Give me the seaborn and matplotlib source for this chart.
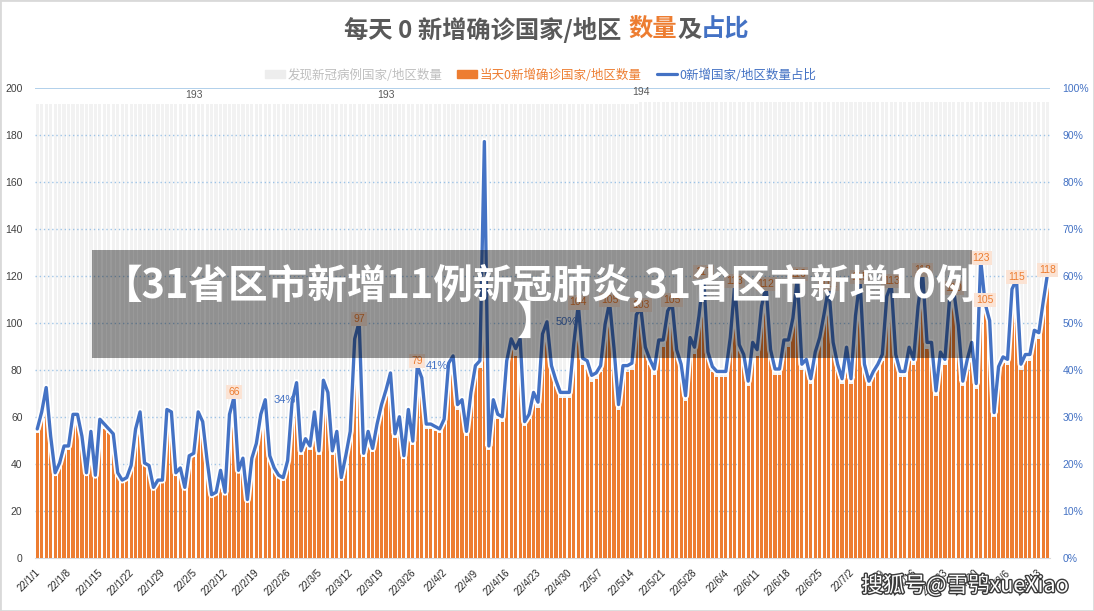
import numpy as np
import pandas as pd
import matplotlib
matplotlib.use("Agg")
import matplotlib.pyplot as plt
import matplotlib.patheffects as pe
from matplotlib.patches import Patch, Rectangle
from matplotlib.lines import Line2D
import seaborn as sns

# 数据: 每天0新增确诊国家/地区数量 (22/1/1 起, 每行一周)
zero_new = [
    53, 60, 70, 50, 35, 39, 46,
    46, 59, 59, 50, 35, 52, 34,
    57, 55, 53, 51, 35, 32, 33,
    38, 53, 60, 39, 38, 29, 32,
    32, 61, 60, 35, 37, 29, 42,
    43, 60, 56, 40, 26, 27, 36,
    27, 59, 66, 36, 41, 24, 41,
    47, 59, 65, 42, 37, 34, 33,
    40, 64, 72, 44, 49, 46, 60,
    44, 73, 68, 44, 52, 33, 42,
    52, 90, 97, 43, 52, 45, 55,
    63, 69, 76, 51, 58, 42, 61,
    48, 79, 74, 55, 55, 54, 53,
    57, 80, 83, 63, 65, 52, 68,
    79, 81, 171, 46, 65, 59, 58,
    81, 90, 86, 90, 56, 59, 68,
    64, 92, 97, 79, 73, 68, 68,
    68, 88, 104, 82, 81, 75, 76,
    79, 96, 105, 86, 63, 79, 79,
    80, 100, 103, 87, 82, 78, 90,
    90, 102, 105, 86, 80, 67, 91,
    87, 100, 117, 85, 79, 77, 77,
    77, 91, 113, 88, 84, 73, 89,
    86, 104, 112, 86, 78, 78, 90,
    90, 99, 116, 80, 82, 74, 85,
    91, 101, 112, 89, 80, 74, 87,
    74, 100, 115, 80, 73, 77, 80,
    84, 108, 113, 84, 77, 77, 87,
    82, 104, 118, 89, 89, 69, 85,
    82, 106, 110, 96, 73, 82, 89,
    72, 123, 105, 98, 60, 79, 83,
    82, 111, 115, 80, 84, 84, 94,
    93, 106, 118,
]
# 发现新冠病例国家/地区数量
totals = [193] * 135 + [194] * 92
start_date = "2022-01-01"

# 带数据标签的点 (日序号)
bar_label_days = [44, 72, 85, 121, 128, 135, 142, 149, 156, 163, 170, 177,
                  184, 191, 198, 205, 211, 212, 219, 226]
pct_label_days = [51, 85, 114]
total_label_days = [35, 78, 135]

dates = pd.date_range(start_date, periods=len(zero_new))
day_names = [f"{d.year % 100}/{d.month}/{d.day}" for d in dates]
df = pd.DataFrame({"日期": day_names, "发现": totals, "零新增": zero_new})
df["占比"] = df["零新增"] / df["发现"]
n = len(df)

ORANGE = "#ED7D31"
BLUE = "#4472C4"
GRID = "#9DC3E6"

sns.set_style("white")
plt.rcParams["font.family"] = ["Noto Sans CJK SC", "DejaVu Sans"]

fig = plt.figure(figsize=(10.94, 6.11), dpi=100)
ax = fig.add_axes([35 / 1094, 1 - 558 / 611, 1015 / 1094, 470 / 611])

# 柱
sns.barplot(data=df, x="日期", y="发现", color="#F2F2F2", width=0.72,
            saturation=1, linewidth=0, ax=ax, zorder=1)
sns.barplot(data=df, x="日期", y="零新增", color=ORANGE, width=0.72,
            saturation=1, linewidth=0, ax=ax, zorder=3)

# 网格线 (在灰柱之上, 橙柱之下)
for y in range(20, 200, 20):
    ax.axhline(y, color=GRID, lw=1, ls=(0, (1, 2)), zorder=2)
ax.axhline(200, color=GRID, lw=1.1, zorder=2)

ax.set_xlim(-0.5, n - 0.5)
ax.set_ylim(0, 200)
ax.set_xticks(np.arange(0, n, 7) - 0.5)
ax.set_xticklabels([day_names[i] for i in range(0, n, 7)], rotation=45,
                   ha="right", va="top", rotation_mode="anchor",
                   fontsize=7, family="Liberation Sans", color="#262626")
ax.tick_params(axis="x", length=4, color="#D9D9D9", pad=3)
ax.set_yticks(range(0, 201, 20))
ax.tick_params(axis="y", length=0, pad=9, labelsize=7.5, labelcolor="#404040")
for lab in ax.get_yticklabels():
    lab.set_family("Liberation Sans")
ax.set_xlabel("")
ax.set_ylabel("")
for s in ["left", "right", "top"]:
    ax.spines[s].set_visible(False)
ax.spines["bottom"].set_color("#D9D9D9")

# 折线 (右轴)
ax2 = ax.twinx()
sns.lineplot(x=np.arange(n), y=df["占比"].values, ax=ax2, color=BLUE, lw=2.4,
             path_effects=[pe.Stroke(linewidth=5, foreground="white"), pe.Normal()])
ax2.set_xlim(-0.5, n - 0.5)
ax2.set_ylim(0, 1)
ax2.set_yticks(np.arange(0, 1.01, 0.1))
ax2.set_yticklabels([f"{int(round(v * 100))}%" for v in np.arange(0, 1.01, 0.1)],
                    family="Liberation Sans")
ax2.tick_params(axis="y", length=0, pad=9, labelsize=7.5, labelcolor=BLUE)
ax2.set_ylabel("")
for s in ["left", "right", "top", "bottom"]:
    ax2.spines[s].set_visible(False)

# 数据标签 (画在折线之上)
for i in bar_label_days:
    ax2.annotate(str(zero_new[i]), (i, zero_new[i]), xycoords=ax.transData,
                 xytext=(0, 8), textcoords="offset points", ha="center",
                 va="center", fontsize=7.5, color=ORANGE, family="Liberation Sans",
                 bbox=dict(boxstyle="square,pad=0.2", fc="#FBE3D4", ec="none"),
                 zorder=6)
for i in total_label_days:
    ax2.annotate(str(totals[i]), (i, totals[i]), xycoords=ax.transData,
                 xytext=(0, 7), textcoords="offset points", ha="center",
                 va="center", fontsize=7.5, color="#595959",
                 family="Liberation Sans", zorder=6)
for i in pct_label_days:
    p = df["占比"][i]
    ax2.annotate(f"{round(p * 100)}%", (i, p), xytext=(6, 0),
                 textcoords="offset points", ha="left", va="center",
                 fontsize=8, color=BLUE, family="Liberation Sans")

# 图例
handles = [Patch(color="#EDEDED"), Patch(color=ORANGE), Line2D([], [], color=BLUE, lw=2.3)]
names = ["发现新冠病例国家/地区数量", "当天0新增确诊国家/地区数量", "0新增国家/地区数量占比"]
leg = fig.legend(handles, names, loc="center", bbox_to_anchor=(0.494, 1 - 75 / 611),
                 ncol=3, frameon=False, fontsize=9, handlelength=1.6,
                 handleheight=0.6, columnspacing=1.2, handletextpad=0.2)
for t, c in zip(leg.get_texts(), ["#BFBFBF", ORANGE, BLUE]):
    t.set_color(c)

# 标题 (分色)
renderer = fig.canvas.get_renderer()
parts = [("每天 0 新增确诊国家/地区", "#595959", 0), ("数量", ORANGE, 7),
         ("及", "#595959", 0), ("占比", BLUE, 0)]
title_texts = []
for s, c, g in parts:
    t = fig.text(0, 1 - 30 / 611, s, color=c, fontsize=17.5, fontweight="bold",
                 va="center", ha="left")
    title_texts.append((t, g))
widths = [t.get_window_extent(renderer).width + g for t, g in title_texts]
x = (fig.bbox.width - sum(widths)) / 2
for (t, g), w in zip(title_texts, widths):
    t.set_x((x + g) / fig.bbox.width)
    x += w

# 遮罩横幅
fig.add_artist(Rectangle((92 / 1094, 1 - 358 / 611), 880 / 1094, 108 / 611,
                         transform=fig.transFigure, color="black", alpha=0.4,
                         lw=0, zorder=10))
fig.text(540 / 1094, 1 - 285 / 611, "【31省区市新增11例新冠肺炎,31省区市新增10例",
         ha="center", va="center", fontsize=28.5, fontweight="bold", color="white",
         zorder=11)
fig.text(537 / 1094, 1 - 322 / 611, "】", ha="center", va="center", fontsize=28.5,
         fontweight="bold", color="white", zorder=11)

# 水印
fig.text(965 / 1094, 1 - 586 / 611, "搜狐号@雪鸮xueXiao", ha="center", va="center",
         fontsize=15.5, color="white", zorder=11,
         path_effects=[pe.withStroke(linewidth=2, foreground="#3a3a3a")])

# 外框
fig.add_artist(Rectangle((0, 0), 1, 1, transform=fig.transFigure, fill=False,
                         edgecolor="#D9D9D9", lw=2, zorder=12))

fig.savefig("out.png", dpi=100)
